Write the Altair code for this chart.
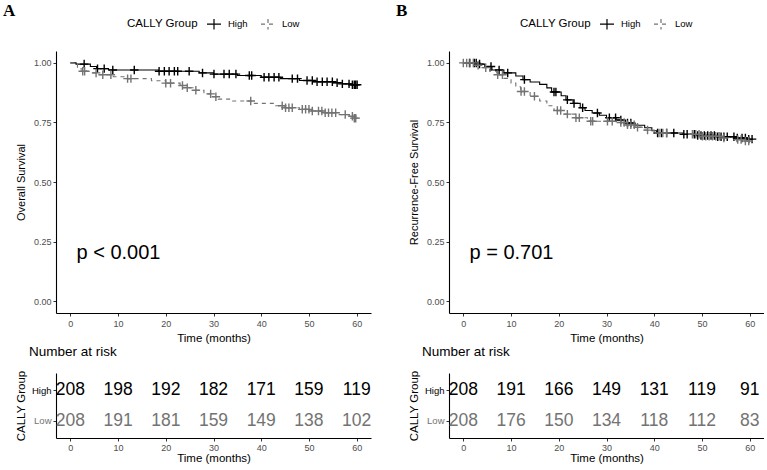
import altair as alt
import pandas as pd

FONT = "Liberation Sans"
HIGH_COLOR = "#000000"
LOW_COLOR = "#737373"
GROUPS = ["High", "Low"]

# ---------------- Panel A: overall survival ----------------
os_high_t = [0, 1.2, 4.2, 5.5, 8.0, 18.5, 27.0, 30.0, 35.0, 40.0, 44.0, 48.0, 51.0, 55.0, 57.0, 59.0]
os_high_s = [1.0, 0.995, 0.985, 0.976, 0.970, 0.965, 0.958, 0.953, 0.947, 0.940, 0.934, 0.926, 0.921, 0.917, 0.912, 0.908]
os_low_t = [0, 1.5, 2.5, 4.0, 6.0, 9.0, 12.0, 17.0, 20.0, 23.0, 24.5, 26.0, 28.0, 29.5, 31.0, 34.0,
            38.0, 43.0, 45.0, 48.0, 50.5, 53.0, 56.0, 58.5, 59.5]
os_low_s = [1.0, 0.975, 0.965, 0.958, 0.950, 0.942, 0.934, 0.925, 0.915, 0.905, 0.896, 0.885, 0.870, 0.858,
            0.848, 0.840, 0.830, 0.820, 0.812, 0.805, 0.798, 0.791, 0.783, 0.776, 0.768]
os_high_cens = [2.9, 5.7, 7.1, 8.9, 13.4, 18.6, 19.7, 20.7, 21.8, 22.5, 24.9, 27.7, 30.1, 32.2, 33.3, 34.7,
                37.5, 38.0, 40.6, 41.6, 42.7, 43.7, 46.5, 47.6, 49.6, 50.7, 51.7, 52.8, 53.8, 54.9, 55.9,
                57.0, 58.4, 59.1, 59.5, 59.8, 60.1]
os_low_cens = [2.6, 3.0, 5.4, 6.8, 8.5, 12.0, 12.7, 20.0, 21.0, 23.5, 24.5, 26.3, 29.4, 30.5, 37.8,
               44.4, 45.1, 45.8, 46.5, 48.6, 49.3, 50.0, 50.7, 52.0, 52.7, 53.4, 54.1, 54.8, 55.6,
               57.6, 59.1, 59.5, 59.8]
os_pval = "p < 0.001"

# ---------------- Panel B: recurrence-free survival ----------------
rfs_high_t = [0, 3.0, 4.5, 6.0, 8.5, 11.0, 12.5, 14.0, 16.0, 17.5, 18.5, 20.5, 21.5, 23.0, 24.5, 25.5,
              27.0, 28.5, 30.0, 32.0, 34.0, 36.0, 38.0, 39.5, 40.5, 46.0, 48.5, 53.0, 57.0, 59.5]
rfs_high_s = [1.0, 0.995, 0.985, 0.970, 0.958, 0.945, 0.930, 0.920, 0.910, 0.895, 0.878, 0.862, 0.845,
              0.830, 0.812, 0.800, 0.790, 0.780, 0.770, 0.760, 0.748, 0.738, 0.728, 0.715, 0.706, 0.700,
              0.695, 0.690, 0.685, 0.680]
rfs_low_t = [0, 2.5, 4.0, 5.5, 7.0, 8.5, 10.0, 11.0, 12.0, 14.0, 16.0, 17.5, 19.0, 21.0, 23.5, 26.0,
             32.0, 34.0, 36.0, 38.0, 40.0, 45.0, 50.0, 54.0, 57.0, 59.0]
rfs_low_s = [1.0, 0.990, 0.980, 0.965, 0.950, 0.935, 0.915, 0.900, 0.880, 0.860, 0.840, 0.820, 0.800,
             0.785, 0.770, 0.755, 0.750, 0.740, 0.730, 0.718, 0.706, 0.700, 0.692, 0.685, 0.678, 0.672]
rfs_high_cens = [1.3, 2.3, 2.7, 3.4, 5.8, 7.5, 9.3, 12.8, 19.0, 19.4, 21.8, 23.2, 25.0, 28.1, 30.6, 31.9,
                 33.0, 34.4, 35.1, 40.7, 41.5, 42.6, 44.1, 46.2, 46.9, 48.4, 49.1, 49.8, 50.5, 51.2, 51.9,
                 52.6, 53.3, 54.0, 54.6, 55.3, 56.7, 57.4, 58.4, 59.1, 59.8, 60.5]
rfs_low_cens = [0.0, 0.7, 1.4, 2.1, 3.1, 4.7, 7.2, 8.2, 12.1, 12.8, 14.9, 19.7, 20.4, 21.8, 23.6, 24.3,
                26.7, 27.1, 30.2, 31.2, 33.0, 33.7, 34.4, 35.1, 35.8, 36.5, 38.6, 41.0, 41.8, 42.6,
                48.0, 48.7, 49.4, 50.1, 50.8, 51.5, 52.2, 52.9, 53.6, 54.6, 57.5, 58.2, 59.1, 59.8]
rfs_pval = "p = 0.701"

# ---------------- Number at risk ----------------
risk_times = [0, 10, 20, 30, 40, 50, 60]
os_risk_high = [208, 198, 192, 182, 171, 159, 119]
os_risk_low = [208, 191, 181, 159, 149, 138, 102]
rfs_risk_high = [208, 191, 166, 149, 131, 119, 91]
rfs_risk_low = [208, 176, 150, 134, 118, 112, 83]

CROSS = "M-1,0H1M0,-1V1"
LEGEND_CROSS = "M-1,0H1M0,-0.75V0.75"


def step_value(times, surv, t):
    val = surv[0]
    for ti, si in zip(times, surv):
        if ti <= t:
            val = si
    return val


def curve_frame(ht, hs, lt, ls):
    rows = []
    for grp, ts, ss in (("High", ht, hs), ("Low", lt, ls)):
        for t, s in zip(ts, ss):
            rows.append({"time": t, "surv": s, "group": grp})
        rows.append({"time": 60.0, "surv": ss[-1], "group": grp})
    return pd.DataFrame(rows)


def censor_frame(ht, hs, hc, lt, ls, lc):
    rows = []
    for grp, ts, ss, cs in (("High", ht, hs, hc), ("Low", lt, ls, lc)):
        for c in cs:
            rows.append({"time": c, "surv": step_value(ts, ss, c), "group": grp})
    return pd.DataFrame(rows)


color_scale = alt.Scale(domain=GROUPS, range=[HIGH_COLOR, LOW_COLOR])
dash_scale = alt.Scale(domain=GROUPS, range=[[1, 0], [4, 4]])
x_scale = alt.Scale(domain=[-3, 63], nice=False, zero=False)


def time_axis(label_pad, title_pad):
    return alt.Axis(values=risk_times, title="Time (months)", grid=False, tickSize=3,
                    labelPadding=label_pad, titlePadding=title_pad, labelFontSize=9, titleFontSize=11.5,
                    labelColor="#4D4D4D", tickColor="#333333", domainColor="#000000",
                    labelFont=FONT, titleFont=FONT, titleFontWeight="normal", titleColor="#000000")


def group_legend():
    return alt.Legend(orient="none", legendX=71, legendY=-35, direction="horizontal",
                      titleOrient="left", symbolType=LEGEND_CROSS, symbolSize=196,
                      symbolStrokeWidth=1.2, titleFontSize=11.5, labelFontSize=9.5,
                      titleFont=FONT, labelFont=FONT, titleFontWeight="normal",
                      titleColor="#000000", labelColor="#000000",
                      columnPadding=10, titlePadding=8, labelOffset=6)


def km_panel(letter, ytitle, lines, cens, pval):
    y_axis = alt.Axis(values=[0, 0.25, 0.5, 0.75, 1.0], format=".2f", title=ytitle, grid=False,
                      tickSize=3, labelPadding=2, titlePadding=5, labelFontSize=9,
                      titleFontSize=11, labelColor="#4D4D4D", tickColor="#333333",
                      domainColor="#000000", labelFont=FONT, titleFont=FONT,
                      titleFontWeight="normal", titleColor="#000000", minExtent=25, maxExtent=25)
    base_x = alt.X("time:Q", scale=x_scale, axis=time_axis(3, 4))
    base_y = alt.Y("surv:Q", scale=alt.Scale(domain=[-0.05, 1.05], nice=False), axis=y_axis)

    line = alt.Chart(lines).mark_line(interpolate="step-after", strokeWidth=1.1).encode(
        x=base_x, y=base_y,
        color=alt.Color("group:N", scale=color_scale, title="CALLY Group", legend=group_legend()),
        strokeDash=alt.StrokeDash("group:N", scale=dash_scale, title="CALLY Group",
                                  legend=group_legend()),
    )
    marks = alt.Chart(cens).mark_point(shape=CROSS, size=72, filled=False, strokeWidth=1.4, opacity=1).encode(
        x=base_x, y=base_y,
        color=alt.Color("group:N", scale=color_scale, legend=None),
    )
    ptext = alt.Chart(pd.DataFrame({"time": [1.3], "surv": [0.2], "label": [pval]})).mark_text(
        align="left", baseline="middle", fontSize=20, font=FONT, color="#000000"
    ).encode(x=base_x, y=base_y, text="label:N")

    return alt.layer(line, marks, ptext).properties(
        width=315, height=262,
        title=alt.TitleParams(letter, anchor="start", font="Liberation Serif", fontSize=17,
                              fontWeight="bold", color="#000000", dx=-12, offset=-4),
    )


def risk_panel(high_vals, low_vals):
    rows = []
    for grp, vals in (("High", high_vals), ("Low", low_vals)):
        for t, v in zip(risk_times, vals):
            rows.append({"time": t, "group": grp, "n": v})
    df = pd.DataFrame(rows)
    y_axis = alt.Axis(title="CALLY Group", grid=False, tickSize=3, labelPadding=2, titlePadding=5,
                      labelFontSize=9.5, titleFontSize=11.5, tickColor="#333333",
                      labelColor={"condition": {"test": "datum.value == 'High'", "value": "#000000"},
                                  "value": LOW_COLOR},
                      domainColor="#000000", labelFont=FONT, titleFont=FONT, titleFontWeight="normal",
                      titleColor="#000000", minExtent=25, maxExtent=25)
    return alt.Chart(df).mark_text(fontSize=17.5, font=FONT, baseline="middle").encode(
        x=alt.X("time:Q", scale=x_scale, axis=time_axis(2, 0)),
        y=alt.Y("group:N", scale=alt.Scale(domain=GROUPS, type="point", padding=0.58), axis=y_axis),
        color=alt.Color("group:N", scale=color_scale, legend=None),
        text="n:Q",
    ).properties(
        width=315, height=65,
        title=alt.TitleParams("Number at risk", anchor="start", font=FONT, fontSize=13.5,
                              fontWeight="normal", color="#000000", dx=14, offset=12),
    )


def panel(letter, ytitle, ht, hs, hc, lt, ls, lc, pval, rh, rl):
    km = km_panel(letter, ytitle, curve_frame(ht, hs, lt, ls),
                  censor_frame(ht, hs, hc, lt, ls, lc), pval)
    risk = risk_panel(rh, rl)
    return alt.vconcat(km, risk, spacing=0).resolve_scale(color="independent", strokeDash="independent")


panel_a = panel("A", "Overall Survival", os_high_t, os_high_s, os_high_cens,
                os_low_t, os_low_s, os_low_cens, os_pval, os_risk_high, os_risk_low)
panel_b = panel("B", "Recurrence-Free Survival", rfs_high_t, rfs_high_s, rfs_high_cens,
                rfs_low_t, rfs_low_s, rfs_low_cens, rfs_pval, rfs_risk_high, rfs_risk_low)

chart = alt.hconcat(panel_a, panel_b, spacing=24).resolve_scale(
    color="independent", strokeDash="independent"
).properties(
    padding={"left": 3, "top": 2, "right": 0, "bottom": 0},
    background="white",
).configure_view(stroke=None).configure_axis(domainWidth=1.1)

chart.save("out.html", embed_options={"renderer": "svg", "actions": False})
